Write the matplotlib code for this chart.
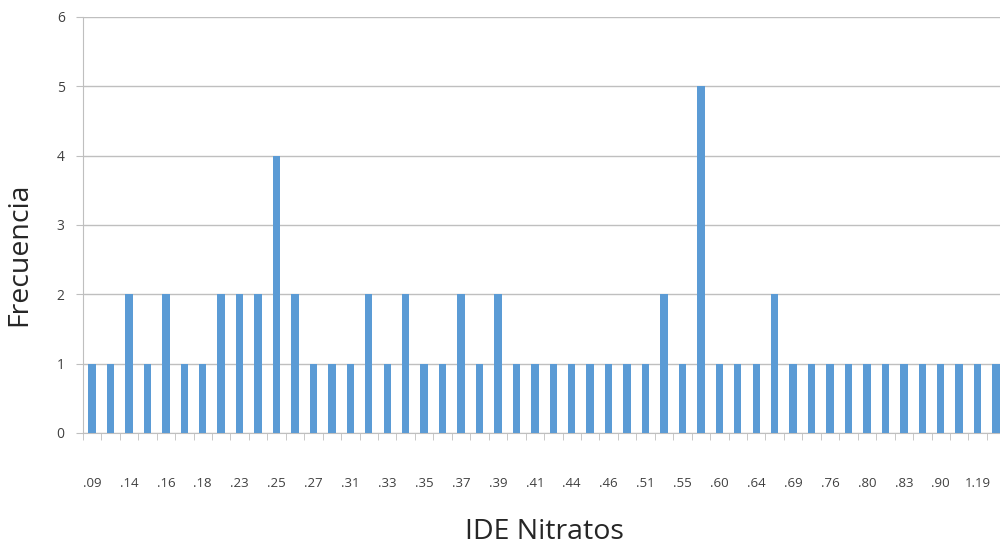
import numpy as np
import matplotlib.pyplot as plt

plt.rcParams['font.family'] = ['Open Sans', 'DejaVu Sans']

# frequency of each IDE nitrate value (50 categories, labels shown on every other one)
frecuencia = [1, 1, 2, 1, 2, 1, 1, 2, 2, 2,
              4, 2, 1, 1, 1, 2, 1, 2, 1, 1,
              2, 1, 2, 1, 1, 1, 1, 1, 1, 1,
              1, 2, 1, 5, 1, 1, 1, 2, 1, 1,
              1, 1, 1, 1, 1, 1, 1, 1, 1, 1]
etiquetas = ['.09', '.14', '.16', '.18', '.23', '.25', '.27', '.31', '.33', '.35',
             '.37', '.39', '.41', '.44', '.46', '.51', '.55', '.60', '.64', '.69',
             '.76', '.80', '.83', '.90', '1.19']

fig = plt.figure(figsize=(10, 5.46), dpi=100)
ax = fig.add_axes([0.0828, 0.207, 0.9225, 0.762])

x = np.arange(len(frecuencia))
ax.bar(x, frecuencia, width=0.4, color='#5B9BD5', zorder=3)

ax.set_xlim(-0.5, len(frecuencia) - 0.5)
ax.set_ylim(0, 6)
ax.set_yticks(range(7))
ax.yaxis.grid(True, color='#BFBFBF', linewidth=1, zorder=0)

# labels on every other bar, small ticks on category boundaries
ax.set_xticks(x[::2])
ax.set_xticklabels(etiquetas)
ax.tick_params(axis='x', length=0, pad=32, labelsize=9.5, labelcolor='#404040')
ax.set_xticks(np.arange(-0.5, len(frecuencia)), minor=True)
ax.tick_params(axis='x', which='minor', length=5, color='#BFBFBF')
ax.tick_params(axis='y', length=5, color='#BFBFBF', labelsize=10, labelcolor='#404040', pad=8)

for s in ['top', 'right']:
    ax.spines[s].set_visible(False)
ax.spines['left'].set_color('#BFBFBF')
ax.spines['bottom'].set_color('#BFBFBF')

ax.set_ylabel('Frecuencia', fontsize=20.5, color='#262626')
ax.yaxis.set_label_coords(-0.054, 0.43)
ax.set_xlabel('IDE Nitratos', fontsize=20.5, color='#262626', labelpad=20)

fig.savefig('out.png')
